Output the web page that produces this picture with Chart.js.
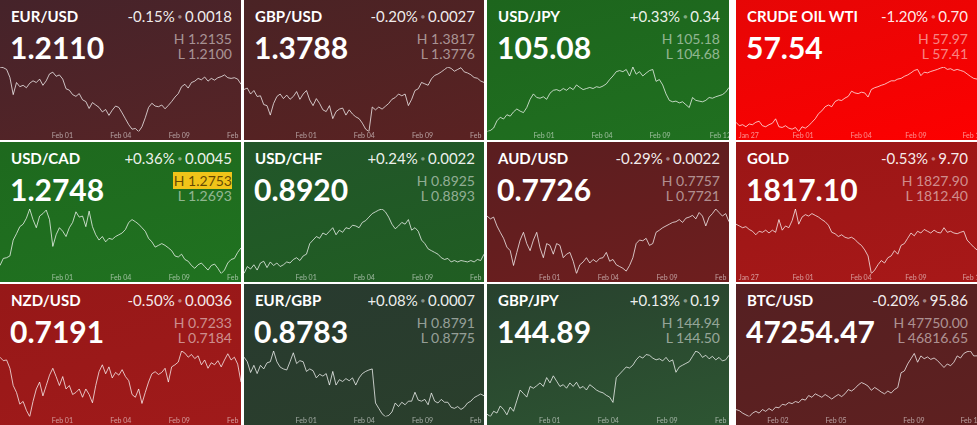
<!DOCTYPE html>
<html><head><meta charset="utf-8">
<script src="https://cdn.jsdelivr.net/npm/chart.js@4.4.1/dist/chart.umd.min.js"></script>
<style>
html,body{margin:0;padding:0;background:#fff;}
#board{position:relative;width:977px;height:425px;overflow:hidden;background:#fff;font-family:Lato,'Noto Sans',sans-serif;}
.tile{position:absolute;overflow:hidden;}
.sym{position:absolute;left:11px;top:7px;font-size:15px;font-weight:700;color:#fff;white-space:nowrap;line-height:normal;}
.chg{position:absolute;right:9px;top:7px;font-size:15px;color:rgba(255,255,255,0.93);white-space:nowrap;line-height:normal;}
.dot{color:rgba(255,255,255,0.45);font-size:7px;position:relative;top:-3px;padding:0 3px;}
.px{position:absolute;left:10px;top:28.7px;font-size:30px;font-weight:700;color:#fff;white-space:nowrap;line-height:normal;}
.hi,.lo{position:absolute;right:9px;font-size:14px;color:rgba(255,255,255,0.52);white-space:nowrap;line-height:normal;}
.hi{top:29.5px}.lo{top:44.5px}
.hl{background:#f0c419;color:rgba(75,50,0,0.85);padding:0 0 0 1px;}
.chart{position:absolute;left:0;right:0;top:67px;bottom:0;}
</style>
</head><body>
<div id="board"></div>
<script>
// ---- text data ----
const symbols   = ['EUR/USD','GBP/USD','USD/JPY','CRUDE OIL WTI','USD/CAD','USD/CHF','AUD/USD','GOLD','NZD/USD','EUR/GBP','GBP/JPY','BTC/USD'];
const changePct = ['-0.15%','-0.20%','+0.33%','-1.20%','+0.36%','+0.24%','-0.29%','-0.53%','-0.50%','+0.08%','+0.13%','-0.20%'];
const changeAbs = ['0.0018','0.0027','0.34','0.70','0.0045','0.0022','0.0022','9.70','0.0036','0.0007','0.19','95.86'];
const lastPrice = ['1.2110','1.3788','105.08','57.54','1.2748','0.8920','0.7726','1817.10','0.7191','0.8783','144.89','47254.47'];
const highs     = ['1.2135','1.3817','105.18','57.97','1.2753','0.8925','0.7757','1827.90','0.7233','0.8791','144.94','47750.00'];
const lows      = ['1.2100','1.3776','104.68','57.41','1.2693','0.8893','0.7721','1812.40','0.7184','0.8775','144.50','46816.65'];

// ---- tick labels (sample index where each date starts) ----
const fxTickIdx = [18.9, 36.6, 54.3, 72.0];
const fxTickLabels = ['Feb 01','Feb 04','Feb 09','Feb 12'];
const jpyTickIdx = [17.2, 34.7, 52.2, 70.4];
const cmdTickIdx = [3.9, 20.3, 37.9, 54.5, 71.8];
const cmdTickLabels = ['Jan 27','Feb 01','Feb 04','Feb 09','Feb 12'];
const btcTickIdx = [12.7, 30.3, 53.9, 71.2];
const btcTickLabels = ['Feb 02','Feb 05','Feb 09','Feb 12'];

// ---- series ----
const eurusd = [1.2150,1.2148,1.2143,1.2120,1.2070,1.2105,1.2093,1.2097,1.2090,1.2103,
1.2110,1.2105,1.2115,1.2097,1.2110,1.2130,1.2135,1.2123,1.2127,1.2115,
1.2087,1.2083,1.2070,1.2065,1.2073,1.2055,1.2050,1.2030,1.2047,1.2040,
1.2033,1.2020,1.2027,1.2010,1.2025,1.2037,1.2033,1.2017,1.2000,1.1983,
1.1970,1.1972,1.1963,1.1977,1.2003,1.2033,1.2045,1.2037,1.2035,1.2040,
1.2029,1.2039,1.2050,1.2063,1.2073,1.2093,1.2100,1.2089,1.2105,1.2109,
1.2117,1.2113,1.2121,1.2109,1.2117,1.2112,1.2119,1.2122,1.2127,1.2119,
1.2117,1.2119,1.2115,1.2100];
const gbpusd = [1.3763,1.3767,1.3750,1.3760,1.3743,1.3745,1.3720,1.3717,1.3690,1.3723,
1.3743,1.3750,1.3737,1.3747,1.3735,1.3743,1.3757,1.3735,1.3750,1.3760,
1.3733,1.3717,1.3737,1.3723,1.3705,1.3700,1.3717,1.3680,1.3700,1.3707,
1.3710,1.3690,1.3705,1.3693,1.3685,1.3680,1.3667,1.3650,1.3643,1.3713,
1.3705,1.3713,1.3707,1.3715,1.3723,1.3735,1.3740,1.3750,1.3745,1.3750,
1.3717,1.3735,1.3760,1.3765,1.3783,1.3779,1.3775,1.3793,1.3803,1.3807,
1.3813,1.3820,1.3827,1.3823,1.3815,1.3820,1.3825,1.3813,1.3810,1.3805,
1.3797,1.3795,1.3787,1.3783];
const usdjpy = [103.85,103.88,103.95,104.15,104.25,104.20,104.32,104.28,104.40,104.48,
104.42,104.38,104.52,104.75,104.90,104.80,104.78,104.82,104.75,104.92,
105.00,105.02,104.98,105.05,105.00,105.08,105.02,105.15,105.08,105.02,
105.05,105.08,105.05,105.10,105.08,105.12,105.18,105.30,105.40,105.52,
105.55,105.52,105.58,105.40,105.65,105.45,105.52,105.40,105.48,105.55,
105.58,105.25,105.30,105.15,104.90,104.72,104.68,104.70,104.65,104.68,
104.60,104.52,104.80,104.72,104.70,104.68,104.72,104.80,104.78,104.82,
104.85,104.88,104.95,105.08];
const crude = [53.81,53.51,53.60,53.42,53.66,53.60,53.81,53.90,53.51,53.42,
53.60,53.72,54.11,53.42,53.36,53.51,53.30,53.21,53.36,53.00,
53.42,53.30,53.51,53.81,54.11,54.56,54.80,55.16,55.31,55.16,
55.61,55.76,55.70,55.91,56.06,56.51,56.36,56.30,56.42,56.36,
56.00,56.66,56.81,56.90,57.02,57.11,57.26,57.41,57.41,57.56,
57.62,57.80,57.92,58.10,58.31,58.40,57.86,58.16,58.10,58.22,
58.31,58.40,58.52,58.61,58.40,58.46,58.31,58.40,58.31,58.22,
58.01,57.80,57.62,57.56];
const usdcad = [1.2701,1.2721,1.2723,1.2728,1.2773,1.2791,1.2811,1.2818,1.2835,1.2861,
1.2831,1.2808,1.2841,1.2848,1.2858,1.2831,1.2755,1.2788,1.2808,1.2798,
1.2783,1.2808,1.2823,1.2853,1.2838,1.2841,1.2811,1.2855,1.2811,1.2788,
1.2773,1.2783,1.2768,1.2778,1.2775,1.2783,1.2788,1.2793,1.2803,1.2823,
1.2831,1.2825,1.2818,1.2808,1.2798,1.2778,1.2768,1.2753,1.2758,1.2763,
1.2758,1.2751,1.2743,1.2728,1.2725,1.2733,1.2718,1.2713,1.2701,1.2693,
1.2703,1.2708,1.2698,1.2688,1.2701,1.2705,1.2693,1.2678,1.2688,1.2708,
1.2718,1.2721,1.2738,1.2751];
const usdchf = [0.8865,0.8885,0.8878,0.8890,0.8875,0.8895,0.8900,0.8882,0.8898,0.8888,
0.8895,0.8885,0.8890,0.8898,0.8895,0.8905,0.8910,0.8902,0.8915,0.8920,
0.8950,0.8960,0.8970,0.8965,0.8980,0.8975,0.8985,0.8995,0.8975,0.8988,
0.8982,0.8995,0.8992,0.9002,0.9000,0.8995,0.9010,0.9015,0.9025,0.9035,
0.9040,0.9045,0.9048,0.9040,0.9025,0.9005,0.8992,0.9000,0.9010,0.9005,
0.9018,0.8988,0.8995,0.8985,0.8960,0.8950,0.8935,0.8930,0.8925,0.8920,
0.8910,0.8905,0.8908,0.8898,0.8902,0.8898,0.8902,0.8900,0.8898,0.8902,
0.8898,0.8905,0.8902,0.8920];
const audusd = [0.7742,0.7734,0.7739,0.7714,0.7696,0.7679,0.7654,0.7644,0.7602,0.7639,
0.7674,0.7696,0.7664,0.7644,0.7674,0.7696,0.7652,0.7624,0.7664,0.7659,
0.7634,0.7664,0.7659,0.7624,0.7634,0.7639,0.7614,0.7579,0.7604,0.7612,
0.7624,0.7609,0.7619,0.7612,0.7622,0.7624,0.7639,0.7614,0.7619,0.7604,
0.7599,0.7594,0.7586,0.7602,0.7624,0.7664,0.7674,0.7672,0.7679,0.7659,
0.7664,0.7696,0.7702,0.7709,0.7714,0.7719,0.7724,0.7726,0.7732,0.7724,
0.7736,0.7739,0.7744,0.7734,0.7752,0.7742,0.7714,0.7739,0.7749,0.7762,
0.7752,0.7742,0.7749,0.7726];
const gold = [1853.6,1851.1,1848.6,1850.1,1846.1,1843.6,1838.6,1843.6,1842.1,1845.1,
1841.1,1845.1,1842.1,1860.1,1845.1,1851.1,1848.6,1858.6,1875.1,1853.6,
1863.6,1867.1,1865.1,1868.6,1866.1,1863.6,1860.1,1857.1,1852.1,1842.1,
1840.1,1836.1,1838.6,1835.1,1833.6,1835.1,1832.1,1827.1,1823.6,1817.1,
1808.6,1783.6,1788.6,1796.1,1802.1,1798.6,1806.1,1808.6,1816.1,1811.1,
1823.6,1826.1,1833.6,1841.1,1837.1,1843.6,1841.1,1846.1,1843.6,1841.1,
1845.1,1842.1,1841.1,1848.6,1842.1,1843.6,1841.1,1840.1,1842.1,1843.6,
1831.1,1826.1,1821.1,1817.1];
const nzdusd = [0.7227,0.7222,0.7223,0.7211,0.7186,0.7176,0.7159,0.7163,0.7150,0.7141,
0.7163,0.7181,0.7191,0.7171,0.7186,0.7201,0.7211,0.7199,0.7186,0.7199,
0.7181,0.7186,0.7173,0.7176,0.7181,0.7169,0.7181,0.7173,0.7161,0.7186,
0.7206,0.7216,0.7203,0.7213,0.7197,0.7205,0.7201,0.7209,0.7199,0.7193,
0.7173,0.7169,0.7181,0.7160,0.7176,0.7191,0.7203,0.7206,0.7202,0.7205,
0.7211,0.7191,0.7213,0.7216,0.7220,0.7236,0.7233,0.7227,0.7231,0.7225,
0.7229,0.7216,0.7223,0.7211,0.7219,0.7216,0.7222,0.7213,0.7223,0.7232,
0.7223,0.7227,0.7217,0.7191];
const eurgbp = [0.8891,0.8878,0.8848,0.8868,0.8845,0.8868,0.8858,0.8875,0.8878,0.8908,
0.8878,0.8863,0.8858,0.8855,0.8878,0.8903,0.8873,0.8881,0.8878,0.8851,
0.8858,0.8853,0.8833,0.8843,0.8838,0.8845,0.8813,0.8851,0.8813,0.8828,
0.8823,0.8831,0.8825,0.8833,0.8813,0.8833,0.8845,0.8851,0.8855,0.8858,
0.8763,0.8748,0.8733,0.8725,0.8728,0.8738,0.8763,0.8753,0.8765,0.8758,
0.8768,0.8768,0.8793,0.8771,0.8768,0.8773,0.8758,0.8791,0.8768,0.8763,
0.8773,0.8765,0.8765,0.8751,0.8748,0.8753,0.8745,0.8751,0.8763,0.8768,
0.8778,0.8783,0.8788,0.8783];
const gbpjpy = [141.57,141.43,141.73,141.63,142.03,141.83,141.53,141.97,141.73,142.33,
142.93,142.73,142.53,143.13,143.03,143.17,143.33,143.13,143.63,143.33,
143.73,143.43,143.13,143.23,143.03,143.33,143.13,143.37,143.03,143.13,
142.93,143.23,143.09,142.93,142.83,142.77,142.63,142.53,142.23,143.63,
143.83,144.03,144.23,144.17,144.33,144.63,144.83,144.73,144.93,144.89,
144.73,144.63,144.69,144.57,144.77,144.53,144.63,143.93,144.23,144.33,
144.43,144.53,144.83,145.13,145.03,144.77,144.89,144.69,144.83,144.63,
144.77,144.57,144.63,144.89];
const btcusd = [35000,34760,34200,33800,33400,34200,34600,34200,35000,34600,
35240,34760,35560,35400,36200,36040,36600,36360,36840,36600,
37400,37160,38200,37800,38600,38200,37800,38440,37960,37400,
37960,38440,37960,38600,39560,39240,39800,40600,41160,40840,
40360,39400,40040,39560,39000,38600,39240,38760,39560,40040,
43400,43800,45400,46600,47800,45800,47240,46600,47000,46440,
46760,46200,45400,44600,45400,45000,45800,47240,46760,47800,
48200,48360,47240,47254.47];

const series = [eurusd,gbpusd,usdjpy,crude,usdcad,usdchf,audusd,gold,nzdusd,eurgbp,gbpjpy,btcusd];
const tickIdxSets = [fxTickIdx,fxTickIdx,jpyTickIdx,cmdTickIdx,fxTickIdx,fxTickIdx,fxTickIdx,cmdTickIdx,fxTickIdx,fxTickIdx,fxTickIdx,btcTickIdx];
const tickLabelSets = [fxTickLabels,fxTickLabels,fxTickLabels,cmdTickLabels,fxTickLabels,fxTickLabels,fxTickLabels,cmdTickLabels,fxTickLabels,fxTickLabels,fxTickLabels,btcTickLabels];

// ---- styling / layout ----
const tileBg = [
 ['#45232a','#572426'],['#4a2325','#5a2222'],['#1d651d','#207020'],['#e60606','#fd0000'],
 ['#1e691e','#207220'],['#22552a','#205e22'],['#5a1e20','#6e1e1e'],['#9a1616','#a81818'],
 ['#961818','#a01a1a'],['#283a2f','#2a3f2c'],['#28412e','#2d5532'],['#552022','#5e2020']];
const colX = [0,244,487,736], colW = [241,240,242,241];
const rowY = [0,142,284], rowH = [140,140,141];
const highlightHighTile = 4;

Chart.defaults.font.family = 'Lato';
const board = document.getElementById('board');

series.forEach((vals, k) => {
  const r = Math.floor(k/4), c = k%4;
  const tile = document.createElement('div');
  tile.className = 'tile';
  tile.style.left = colX[c]+'px'; tile.style.top = rowY[r]+'px';
  tile.style.width = colW[c]+'px'; tile.style.height = rowH[r]+'px';
  tile.style.background = 'linear-gradient(165deg,'+tileBg[k][0]+','+tileBg[k][1]+')';
  const hiHtml = k===highlightHighTile ? '<span class="hl">H '+highs[k]+'</span>' : 'H '+highs[k];
  tile.innerHTML =
    '<div class="sym">'+symbols[k]+'</div>'+
    '<div class="chg">'+changePct[k]+'<span class="dot">\u25CF</span>'+changeAbs[k]+'</div>'+
    '<div class="px">'+lastPrice[k]+'</div>'+
    '<div class="hi">'+hiHtml+'</div>'+
    '<div class="lo">L '+lows[k]+'</div>'+
    '<div class="chart"><canvas></canvas></div>';
  board.appendChild(tile);
  const canvas = tile.querySelector('canvas');
  const tIdx = tickIdxSets[k], tLab = tickLabelSets[k];
  new Chart(canvas, {
    type: 'line',
    data: { datasets: [{
      data: vals.map((v,i)=>({x:i,y:v})),
      borderColor: 'rgba(255,255,255,0.72)', borderWidth: 1,
      pointRadius: 0, tension: 0, fill: false }]},
    options: {
      responsive: true, maintainAspectRatio: false, animation: false, events: [],
      layout: { padding: 0 },
      plugins: { legend: { display: false }, tooltip: { enabled: false } },
      scales: {
        x: { type: 'linear', min: 0, max: vals.length-1, bounds: 'data',
             grid: { display: false, drawTicks: false }, border: { display: false },
             afterBuildTicks: s => { s.ticks = tIdx.map(v => ({ value: v })); },
             afterFit: s => { s.paddingLeft = 0; s.paddingRight = 0; },
             ticks: { autoSkip: false, maxRotation: 0, minRotation: 0, padding: 0,
                      color: 'rgba(255,255,255,0.55)', font: { family: 'Lato', size: 7 },
                      callback: (v, i) => tLab[i] } },
        y: { display: false, bounds: 'data', min: Math.min(...vals), max: Math.max(...vals) }
      }
    }
  });
});
</script>
</body></html>
